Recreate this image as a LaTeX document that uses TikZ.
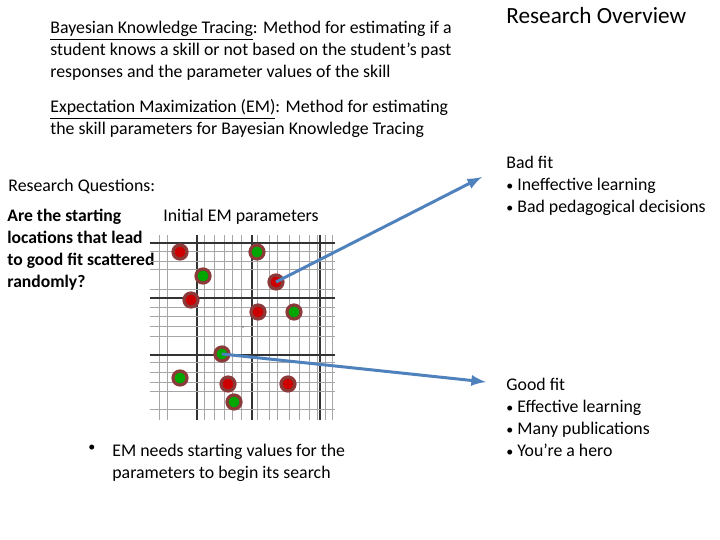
\documentclass[tikz,border=0pt]{standalone}
\usepackage{fontspec}
\setmainfont{Carlito}
\definecolor{arrblue}{HTML}{4F81BD}
\definecolor{ringc}{HTML}{8B3A3A}
\begin{document}
\begin{tikzpicture}[x=0.5pt,y=-0.5pt,
  txt/.style={anchor=north west,inner sep=0pt,font=\fontsize{8.9}{11}\selectfont,align=left},
  ring/.style={circle,draw=ringc,line width=1.6pt,minimum size=7pt,inner sep=0pt},
  rd/.style={ring,fill=red!80!black},
  gr/.style={ring,fill=green!65!black},
  arr/.style={draw=arrblue,line width=1.5pt,-latex}]
\useasboundingbox (0,0) rectangle (720,540);
\node[txt] (t1) at (50,21) {\underline{Bayesian Knowledge Tracing}: Method for estimating if a\\student knows a skill or not based on the student's past\\responses and the parameter values of the skill};
\node[txt] (t2) at (50,99) {\underline{Expectation Maximization (EM)}: Method for estimating\\the skill parameters for Bayesian Knowledge Tracing};
\node[txt,font=\fontsize{11.6}{13}\selectfont] (ro) at (506,7) {Research Overview};
\node[txt] (rq) at (8,179) {Research Questions:};
\node[txt,font=\bfseries\fontsize{8.8}{11}\selectfont] (q) at (7,209) {Are the starting\\locations that lead\\to good fit scattered\\randomly?};
\node[txt] (ie) at (163,209) {Initial EM parameters};
% grid
\foreach \x in {160,168,205,215,225,233,242,258,270,278,290,300,310,318,326,333}
  \draw[gray!70,line width=0.5pt] (\x,235) -- (\x,420);
\foreach \x in {197,252,320}
  \draw[black!80,line width=0.7pt] (\x,235) -- (\x,420);
\foreach \y in {252,262,270,290,308,317,327,337,363,373,383,392,410}
  \draw[gray!70,line width=0.5pt] (150,\y) -- (335,\y);
\foreach \y in {243,298,355}
  \draw[black!80,line width=0.7pt] (150,\y) -- (335,\y);
\fill (243,327) circle (0.7);
\node[rd] (r1) at (180,252) {};
\node[rd] (r2) at (276,282) {};
\node[rd] (r3) at (191,300) {};
\node[rd] (r4) at (258,312) {};
\node[rd] (r5) at (228,384) {};
\node[rd] (r6) at (288,384) {};
\node[gr] (g1) at (257,252) {};
\node[gr] (g2) at (203,276) {};
\node[gr] (g3) at (294,312) {};
\node[gr] (g4) at (222,354) {};
\node[gr] (g5) at (180,378) {};
\node[gr] (g6) at (234,402) {};
\coordinate (e1) at (482,177);
\coordinate (e2) at (486,382);
\draw[arr] (r2.center) -- (e1);
\draw[arr] (g4.center) -- (e2);
\node[txt] (bf) at (506,156) {Bad fit\\{\scriptsize\textbullet}\ Ineffective learning\\{\scriptsize\textbullet}\ Bad pedagogical decisions};
\node[txt] (gf) at (506,378) {Good fit\\{\scriptsize\textbullet}\ Effective learning\\{\scriptsize\textbullet}\ Many publications\\{\scriptsize\textbullet}\ You're a hero};
\node[txt] (bul) at (88,445) {\scriptsize\textbullet};
\node[txt] (em) at (112,444) {EM needs starting values for the\\parameters to begin its search};
\end{tikzpicture}
\end{document}
